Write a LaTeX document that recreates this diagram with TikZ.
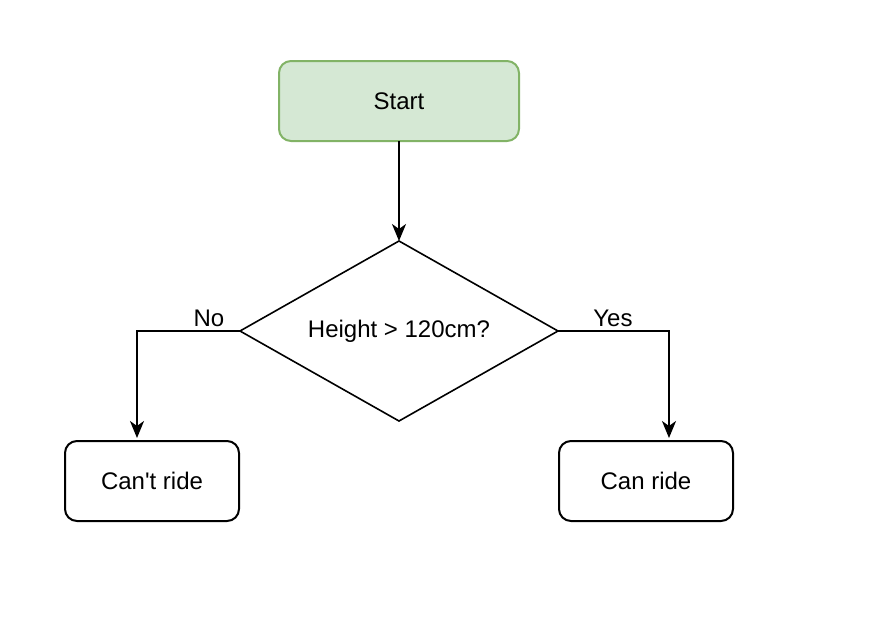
\documentclass[tikz,border=0pt]{standalone}
\usepackage{fontspec}
\setmainfont{Liberation Sans}
\usetikzlibrary{shapes.geometric,arrows.meta,calc}
\definecolor{startfill}{HTML}{D5E8D4}
\definecolor{startdraw}{HTML}{82B366}
\tikzset{
  txt/.style={font=\fontsize{12}{14}\selectfont},
  box/.style={txt, draw=black, line width=1pt, rounded corners=6pt, minimum width=87pt, minimum height=40pt, inner sep=0pt, outer sep=0pt},
  startbox/.style={box, fill=startfill, draw=startdraw, minimum width=120pt},
  decision/.style={txt, diamond, draw=black, line width=0.8pt, minimum width=159pt, minimum height=90pt, aspect=1.767, inner sep=0pt, outer sep=0pt},
  conn/.style={draw=black, line width=1pt, -{Stealth[length=8.5pt,width=7pt,inset=2.5pt]}, shorten >=1.5pt},
  lbl/.style={txt, inner sep=0pt}
}
\begin{document}
\begin{tikzpicture}[x=0.5pt,y=-0.5pt]
\useasboundingbox (0,0) rectangle (875,634);
\node[startbox] (start) at (399,101) {Start};
\node[decision] (dia) at (399,331) {Height > 120cm?};
\node[box] (cant) at (152,481) {Can\textquotesingle t ride};
\node[box] (can) at (646,481) {Can ride};
\draw[conn, shorten >=0pt] (start) -- (dia.north);
\draw[conn] (dia.west) -| ([xshift=-7.5pt]cant.north);
\draw[conn] (dia.east) -| ([xshift=11.5pt]can.north);
\node[lbl] (no) at (209,318) {No};
\node[lbl] (yes) at (613,318) {Yes};
\end{tikzpicture}
\end{document}
